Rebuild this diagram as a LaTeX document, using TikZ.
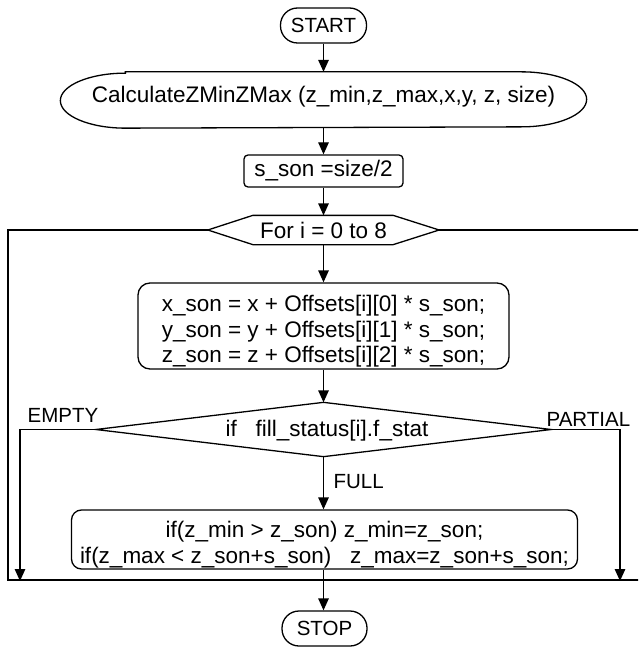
\documentclass[tikz,border=0pt]{standalone}
\usepackage{fontspec}
\setmainfont{Liberation Sans}
\usetikzlibrary{arrows.meta}
\begin{document}
\begin{tikzpicture}[x=1pt,y=-1pt,
  line width=1.3pt,
  code/.style={font=\fontsize{22.5}{25.5}\selectfont, inner sep=0pt, align=center},
  caps/.style={font=\fontsize{20.5}{24}\selectfont, inner sep=0pt},
  term/.style={draw, rounded corners=17pt, minimum width=86pt, minimum height=35pt, caps},
  proc/.style={draw, rounded corners=#1, code},
  arr/.style={-{Triangle[length=12pt,width=10.5pt]}},
]
\useasboundingbox (0,0) rectangle (638,647);
\clip (0,0) rectangle (638,647);

\node[term] (start) at (323.5,25.5) {START};
\node[code, minimum width=525pt, minimum height=55pt] (calc) at (323.5,100) {};
\node[code] (calctext) at (323.5,97) {CalculateZMinZMax (z\_min,z\_max,x,y, z, size)};
\draw ([xshift=65pt]calc.north west) -- ([xshift=-65pt]calc.north east)
  arc[start angle=90,end angle=-90,x radius=65pt,y radius=27.5pt]
  -- ([xshift=65pt]calc.south west)
  arc[start angle=270,end angle=90,x radius=65pt,y radius=27.5pt] -- cycle;

\node[proc=4pt, minimum width=159pt, minimum height=32pt] (sson) at (323.5,171) {s\_son =size/2};

\node[code, minimum width=230pt, minimum height=28pt] (hex) at (323.5,230) {For i = 0 to 8};
\draw (hex.west) -- ([xshift=45pt]hex.north west) -- ([xshift=-46pt]hex.north east)
  -- (hex.east) -- ([xshift=-46pt]hex.south east) -- ([xshift=45pt]hex.south west) -- cycle;

\node[proc=12pt, minimum width=371pt, minimum height=86pt] (upd) at (323.5,326) {};
\node[code] (updtext) at (323.5,331.5)
  {x\_son = x + Offsets[i][0] * s\_son;\\
   y\_son = y + Offsets[i][1] * s\_son;\\
   z\_son = z + Offsets[i][2] * s\_son;};

\node[code, minimum width=454pt, minimum height=53pt] (dia) at (323.5,429.5) {};
\node[code] (diatext) at (327,430.5) {if\ \ \ fill\_status[i].f\_stat};
\draw (dia.west) -- (dia.north) -- (dia.east) -- (dia.south) -- cycle;

\node[proc=10pt, minimum width=506pt, minimum height=59pt] (mm) at (324.5,539.5) {};
\node[code] (mmtext) at (324.5,544.5)
  {if(z\_min > z\_son) z\_min=z\_son;\\
   if(z\_max < z\_son+s\_son)\ \ \ z\_max=z\_son+s\_son;};

\node[term, minimum width=85pt] (stop) at (324.5,628.5) {STOP};

\node[caps, anchor=base west] (lblE) at (27,422) {EMPTY};
\node[caps, anchor=base west] (lblP) at (546,426) {PARTIAL};
\node[caps, anchor=base west] (lblF) at (333,488) {FULL};

\coordinate (loopL) at (8,580);
\coordinate (loopR) at (646,580);
\coordinate (emptyEnd) at (20,581);
\coordinate (partEnd) at (620,581);

\draw (hex.west) -| (loopL) -- (loopR) |- (hex.east);

\draw[arr] (start.south) -- (start.south |- calc.north);
\draw[arr] (calc.south) -- (sson.north);
\draw[arr] (sson.south) -- (hex.north);
\draw[arr] (hex.south) -- (upd.north);
\draw[arr] (upd.south) -- (dia.north);
\draw[arr] (dia.south) -- (dia.south |- mm.north);
\draw[arr] (dia.south |- mm.south) -- (stop.north -| dia.south);
\draw[arr] (dia.west) -| (emptyEnd);
\draw[arr] (dia.east) -| (partEnd);
\end{tikzpicture}
\end{document}
